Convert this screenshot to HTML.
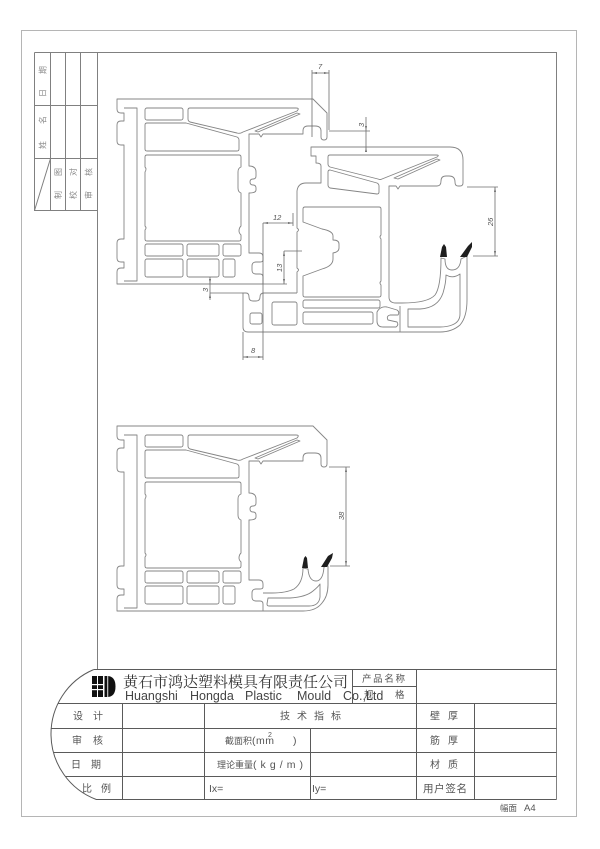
<!DOCTYPE html>
<html><head><meta charset="utf-8"><title>drawing</title>
<style>
html,body{margin:0;padding:0;background:#fff;width:600px;height:849px;overflow:hidden}
svg{display:block}
.t{font-family:"Liberation Sans","Noto Sans CJK SC",sans-serif}
.s{font-family:"Liberation Serif","Noto Serif CJK SC",serif}
</style></head><body>
<svg width="600" height="849" viewBox="0 0 600 849" xmlns="http://www.w3.org/2000/svg">
<rect width="600" height="849" fill="#fff"/>
<defs>
<g id="fb">
<path d="M117,99 H313 L327,113 V137 Q327,140 324,140 Q321,140 321,137 V131 Q321,126 315,126 H308 Q303,126 303,131 V134 H263 L261,137 L259,134 H249 V166 Q256,166 256,172 V176 Q256,179 253,179 Q250,179 250,182 Q250,185 253,185 Q256,185 256,188 V190 Q256,193 249,193 V253 H259 Q263,253 263,257 V260 Q263,262 260,262 H256 Q252,262 252,266 V270 Q252,274 256,274 H260 Q263,274 263,277 V284 H117 V272 Q117,268 121,268 H124 V262 H121 Q117,262 117,258 V243 Q117,239 121,239 H124 V145 H121 Q117,145 117,141 V125 Q117,121 121,121 H124 V113 H121 Q117,113 117,109 Z"/>
<path d="M124,108 H137 V281 H124"/>
<rect x="145" y="108" width="38" height="12" rx="2"/>
<path d="M190,108 H296 Q300,108 297,111 L243,132 Q240,134 237,133 L190,122 Q188,121 188,119 V110 Q188,108 190,108 Z"/>
<path d="M255,131 L297,113 L300,114 L258,132 Z"/>
<path d="M147,123 H186 L237,137 Q239,138 239,140 V149 Q239,151 237,151 H147 Q145,151 145,149 V125 Q145,123 147,123 Z"/>
<path d="M147,155 H239 Q241,155 241,157 V167 Q238,168 238,172 V188 Q238,192 241,193 V226 Q239,228 239,231 Q239,233 241,235 V239 Q241,241 239,241 H147 Q145,241 145,239 V230 Q147,228 145,226 V172 Q147,169 145,167 V157 Q145,155 147,155 Z"/>
<rect x="145" y="244" width="38" height="12" rx="2"/>
<rect x="187" y="244" width="32" height="12" rx="2"/>
<rect x="223" y="244" width="18" height="12" rx="2"/>
<rect x="145" y="259" width="38" height="18" rx="2"/>
<rect x="187" y="259" width="32" height="18" rx="2"/>
<rect x="223" y="259" width="12" height="18" rx="2"/>
</g>
</defs>

<!-- outer frame -->
<rect x="21.5" y="30.5" width="555" height="786" fill="none" stroke="#b5b5b5" stroke-width="1"/>
<!-- inner frame + side table -->
<g fill="none" stroke="#808080" stroke-width="1">
<path d="M34.5,52.5 H556.5 V799.5"/>
<path d="M97.5,52.5 V669.5"/>
<path d="M34.5,52.5 V210.5 H97.5 M50.5,52.5 V210.5 M65.5,52.5 V210.5 M80.5,52.5 V210.5 M34.5,105.5 H97.5 M34.5,158.5 H97.5 M34.5,210.5 L50.5,158.5"/>
</g>
<g class="t" font-size="8" fill="#8a8a8a">
<text transform="translate(45.5,97) rotate(-90)" x="0 23">日期</text>
<text transform="translate(45.5,149) rotate(-90)" x="0 25">姓名</text>
<text transform="translate(61,199) rotate(-90)" x="0 23">制图</text>
<text transform="translate(76,199) rotate(-90)" x="0 23">校对</text>
<text transform="translate(91.5,199) rotate(-90)" x="0 23">审核</text>
</g>

<!-- drawings -->
<g fill="none" stroke="#858585" stroke-width="0.9" stroke-linejoin="round">
<use href="#fb"/>
<use href="#fb" transform="translate(0,327)"/>

<!-- top sash -->
<path d="M297,293 V272 Q300,270 297,268 V232 Q300,230 297,228 V191 Q298,183 306,183 H321 V166 Q321,163 316,163 V156 H311 V147 H450 Q463,147 463,160 V183 Q463,186 460,186 H458 Q455,186 455,182 Q455,176 449,176 H446 Q441,176 441,181 Q441,186 437,186 H400 L398,189 L396,186 H389 V297 Q389,303 396,303 H402"/>
<path d="M297,293 H264 Q260,293 260,297 Q260,301 256,301 H253 Q249,301 249,297 Q249,293 246,293 H243 V327 Q243,332 248,332 H440 Q452,332 460,325 Q467,317 467,300 V256 L461,259 Q460,270 452,270 Q445,270 445,259 L441,258 Q441,287 435,295 Q428,303 402,303"/>
<path d="M408,309 H420 Q438,308 443,293 Q446,283 446,275 Q453,279 460,274 V314 Q460,322 452,325 Q447,327 440,327 H408 Z"/>
<path d="M400,306 V332"/>
<path d="M330,155 H436 Q440,155 437,157 L382,179 Q380,180 378,179 L330,167 Q328,166 328,164 V157 Q328,155 330,155 Z"/>
<path d="M330,170 L377,183 Q379,184 379,186 V192 Q379,194 377,194 L330,188 Q328,187 328,185 V172 Q328,170 330,170 Z"/>
<path d="M394,178 L437,159 L440,160 L398,179 Z"/>
<path d="M305,207 H379 Q381,207 381,209 V235 Q379,237 381,239 V281 Q379,283 381,285 V295 Q381,297 379,297 H305 Q303,297 303,295 V276 L322,269 Q333,266 333,259 V253 Q339,252 339,248 V244 Q339,240 333,240 V236 Q333,231 322,229 L303,222 V209 Q303,207 305,207 Z"/>
<rect x="303" y="300" width="77" height="8" rx="2"/>
<rect x="303" y="312" width="70" height="12" rx="2"/>
<rect x="272" y="302" width="25" height="23" rx="2"/>
<rect x="250" y="313" width="12" height="11" rx="2"/>
<path d="M377,312 Q380,306 387,307 L397,310 Q400,312 398,315 H390 Q386,316 388,320 L397,322 Q399,325 396,327 H383 Q377,327 377,321 Z"/>

<!-- bottom drawing bead -->
<path d="M263,611 H303 Q316,611 322,603 Q328,596 328,585 V566 L324,567 Q323,581 316,581 Q309,581 308,569 L303,568 Q303,583 294,589 Q286,593 272,593 H263"/>
<path d="M268,598 H290 Q306,597 313,591 Q318,587 320,584 V597 Q319,606 309,606 H269 Q267,606 267,604 Z"/>
</g>

<!-- seals -->
<g fill="#1e1e1e">
<polygon points="440,257 442,247 444,244 446,247 447,257"/>
<polygon points="460,257 468,246 472,242 472,247 467,257"/>
<polygon points="302,568 304,558 305.5,556 307,558 308,568"/>
<polygon points="321,567 328,556 333,553 332,558 327,567"/>
</g>

<!-- dimension lines -->
<g fill="none" stroke="#6e6e6e" stroke-width="0.8">
<path d="M312,70 V137 M329,70 V130 M312,73 H329"/>
<path d="M329,131 H370 M366,117 V152"/>
<path d="M467,187 H498 M473,256 H498 M495,187 V256"/>
<path d="M263,223 H293 M293,213 V226"/>
<path d="M263,284 H287 M284,251 V284 M284,251 H302"/>
<path d="M210,277 V300 M210,293 H243"/>
<path d="M243,332 V360 M263,223 V360 M243,357 H263"/>
<path d="M329,467 H350 M330,566 H350 M346,467 V566"/>
</g>
<g fill="#6e6e6e">
<polygon points="312,73 317,72 317,74"/><polygon points="329,73 324,72 324,74"/>
<polygon points="366,131 365,126 367,126"/><polygon points="366,147 365,152 367,152"/>
<polygon points="495,187 494,192 496,192"/><polygon points="495,256 494,251 496,251"/>
<polygon points="263,223 268,222 268,224"/><polygon points="293,223 288,222 288,224"/>
<polygon points="284,251 283,256 285,256"/><polygon points="284,284 283,279 285,279"/>
<polygon points="210,284 209,279 211,279"/><polygon points="210,293 209,298 211,298"/>
<polygon points="243,357 248,356 248,358"/><polygon points="263,357 258,356 258,358"/>
<polygon points="346,467 345,472 347,472"/><polygon points="346,566 345,561 347,561"/>
</g>
<g class="t" font-size="7.5" font-style="italic" fill="#555">
<text x="318" y="69">7</text>
<text transform="translate(364,127) rotate(-90)">3</text>
<text transform="translate(493,226) rotate(-90)">26</text>
<text x="273" y="220">12</text>
<text transform="translate(282,272) rotate(-90)">13</text>
<text transform="translate(208,292) rotate(-90)">3</text>
<text x="251" y="353">8</text>
<text transform="translate(344,520) rotate(-90)">38</text>
</g>

<!-- title block -->
<g fill="none" stroke="#5a5a5a" stroke-width="1">
<path d="M93.8,669.5 H556.5"/>
<path d="M93.8,669.5 A70,70 0 0 0 96.3,799.5 H556.5"/>
<path d="M58,703.5 H556.5 M51.2,728.5 H556.5 M53.5,752.5 H556.5 M65.4,776.5 H556.5"/>
<path d="M122.5,703.5 V799.5 M204.5,703.5 V799.5 M310.5,728.5 V799.5 M352.5,669.5 V703.5 M416.5,669.5 V799.5 M474.5,703.5 V799.5 M352.5,686.5 H416.5"/>
</g>
<!-- logo -->
<g fill="#111">
<rect x="92" y="676" width="5" height="21"/>
<rect x="98" y="676" width="5" height="21"/>
<path d="M104.5,676 H107 Q115.5,676 115.5,686.5 Q115.5,697 107,697 H104.5 Z"/>
</g>
<g fill="#fff">
<rect x="92" y="684" width="11" height="1.2"/>
<rect x="92" y="689" width="11" height="1.2"/>
<rect x="107.3" y="676" width="0.9" height="21"/>
</g>
<text class="s" x="123" y="687" font-size="15" fill="#333" textLength="225" lengthAdjust="spacingAndGlyphs">黄石市鸿达塑料模具有限责任公司</text>
<text class="t" y="700" font-size="12.5" fill="#444"><tspan x="125">Huangshi</tspan><tspan x="190">Hongda</tspan><tspan x="245">Plastic</tspan><tspan x="297">Mould</tspan><tspan x="343">Co.,Ltd</tspan></text>
<g class="t" fill="#555">
<text x="362" y="682" font-size="9.5" textLength="43">产品名称</text>
<text y="698" font-size="9.5" x="364 395">规格</text>
<text y="719.5" font-size="10" x="73 93">设计</text>
<text y="744" font-size="10" x="72 93">审核</text>
<text y="768" font-size="10" x="71 91">日期</text>
<text y="792" font-size="10" x="82 101">比例</text>
<text y="719.5" font-size="10" x="280 297 314 331">技术指标</text>
<text x="225" y="744" font-size="9">截面积</text>
<text x="252" y="744" font-size="10.5" textLength="22" lengthAdjust="spacing">(mm</text>
<text x="268" y="737" font-size="7">2</text>
<text x="293" y="744" font-size="10.5">)</text>
<text x="217" y="768" font-size="9">理论重量</text>
<text x="253" y="768" font-size="10.5" textLength="50" lengthAdjust="spacing">(kg/m)</text>
<text x="209" y="792" font-size="10.5">Ix=</text>
<text x="312" y="792" font-size="10.5">Iy=</text>
<text y="719.5" font-size="10" x="430 448">壁厚</text>
<text y="744" font-size="10" x="430 448">筋厚</text>
<text y="768" font-size="10" x="430 448">材质</text>
<text x="423" y="792" font-size="10.5" textLength="44">用户签名</text>
<text x="500" y="811" font-size="8.5">幅面</text>
<text x="524" y="811" font-size="9.5">A4</text>
</g>
</svg>
</body></html>
